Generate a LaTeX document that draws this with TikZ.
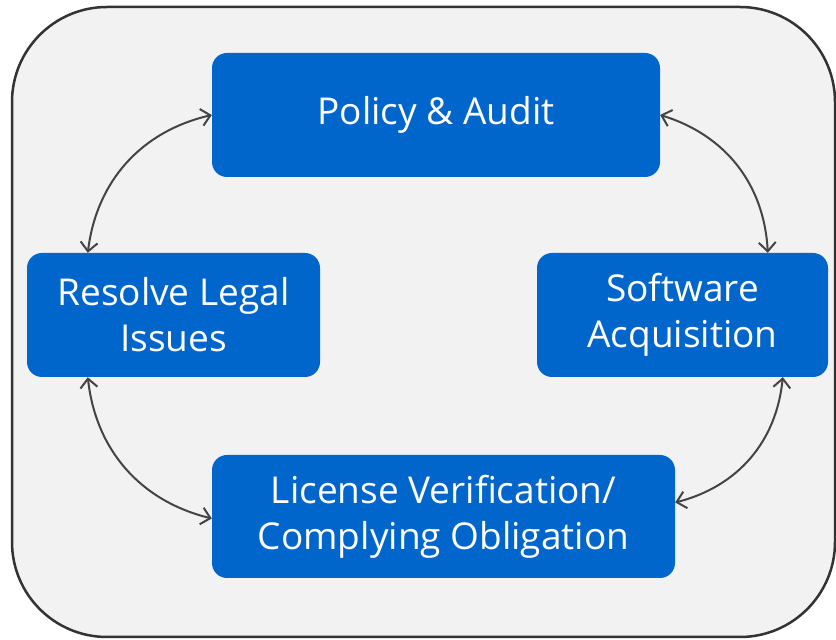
\documentclass[tikz,border=0pt]{standalone}
\usepackage{fontspec}
\setmainfont{Open Sans}
\usetikzlibrary{arrows.meta}
\definecolor{boxblue}{HTML}{0066CC}
\definecolor{panel}{HTML}{F2F2F2}
\definecolor{edge}{HTML}{333333}
\definecolor{linkgray}{HTML}{444444}
\begin{document}
\begin{tikzpicture}[x=1pt,y=1pt,
  box/.style={fill=boxblue, rounded corners=15pt, text=white, align=center,
    font=\fontsize{37}{46}\selectfont, inner sep=0pt},
  link/.style={draw=linkgray, line width=2pt,
    {Straight Barb[length=9pt,width=17pt]}-{Straight Barb[length=9pt,width=17pt]}}]
\useasboundingbox (0,0) rectangle (836,640);
\draw[edge, line width=2.5pt, fill=panel, rounded corners=95pt] (12,3) rectangle (835,633);
\node[box, minimum width=448pt, minimum height=124pt] (pa) at (436,525) {Policy \& Audit};
\node[box, minimum width=293pt, minimum height=124pt] (rl) at (173.5,325) {Resolve Legal\\Issues};
\node[box, minimum width=291pt, minimum height=124pt] (sa) at (682.5,325) {Software\\Acquisition};
\node[box, minimum width=463pt, minimum height=123pt] (lv) at (443.5,123.5) {License Verification/\\Complying Obligation};
\draw[link] (pa.west) to[bend right=35] ([xshift=61pt]rl.north west);
\draw[link] (pa.east) to[bend left=35] ([xshift=231pt]sa.north west);
\draw[link] ([xshift=61pt]rl.south west) to[bend right=35] ([yshift=-2pt]lv.west);
\draw[link] ([xshift=246pt]sa.south west) to[bend left=35] ([yshift=14pt]lv.east);
\end{tikzpicture}
\end{document}
